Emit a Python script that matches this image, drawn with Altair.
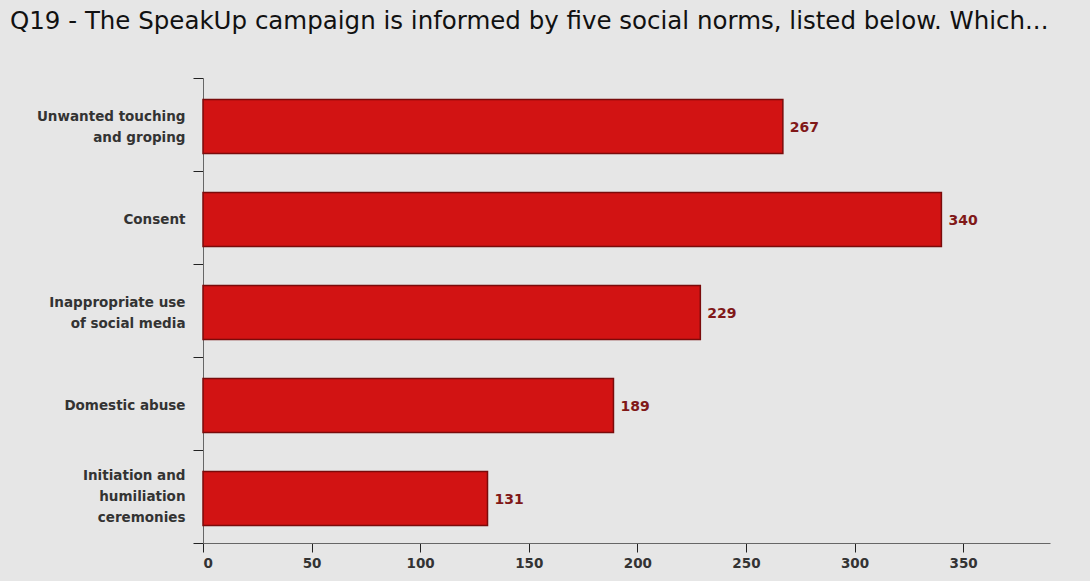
import altair as alt
import pandas as pd

categories = ["Unwanted touching|and groping", "Consent", "Inappropriate use|of social media",
              "Domestic abuse", "Initiation and|humiliation|ceremonies"]
values = [267, 340, 229, 189, 131]
x_ticks = [0, 50, 100, 150, 200, 250, 300, 350]
title = "Q19 - The SpeakUp campaign is informed by five social norms, listed below. Which..."

df = pd.DataFrame({"category": categories, "value": values})

label_offset = {
    "condition": [
        {"test": "length(split(datum.value, '|')) == 3", "value": -21.5},
        {"test": "length(split(datum.value, '|')) == 2", "value": -8.5},
    ],
    "value": 2,
}

y_enc = alt.Y("category:N", sort=categories, title=None,
              scale=alt.Scale(paddingInner=0, paddingOuter=0),
              axis=alt.Axis(labelExpr="split(datum.label, '|')", labelFont="DejaVu Sans",
                            labelFontSize=13.5, labelFontWeight="bold", labelColor="#333333",
                            labelLineHeight=21, labelPadding=8, tickSize=10, tickBand="extent",
                            labelOffset=label_offset,
                            domainColor="#666666", tickColor="#222222", labelAlign="right"))
x_enc = alt.X("value:Q", title=None,
              scale=alt.Scale(domain=[0, 390], nice=False),
              axis=alt.Axis(values=x_ticks, grid=False, labelFont="DejaVu Sans",
                            labelFontSize=13.5, labelFontWeight="bold", labelColor="#333333",
                            tickSize=9, labelPadding=4, domainColor="#666666",
                            tickColor="#222222"))

bars = alt.Chart(df).mark_bar(color="#d21313", stroke="#7a0b0b", strokeWidth=1.5,
                              yOffset=2,
                              height=alt.RelativeBandSize(0.58)).encode(x=x_enc, y=y_enc)
labels = alt.Chart(df).mark_text(align="left", baseline="middle", dx=7, dy=3, font="DejaVu Sans",
                                 fontSize=14, fontWeight="bold", color="#801818").encode(
    x="value:Q", y=alt.Y("category:N", sort=categories), text="value:Q")

chart = (bars + labels).properties(
    width=847, height=465,
    title=alt.TitleParams(title, anchor="start", frame="group", font="DejaVu Sans",
                          fontSize=24.5, fontWeight="normal",
                          color="#111111", dx=-193, offset=37),
    background="#e6e6e6",
    autosize=alt.AutoSizeParams(type="none"),
    padding={"left": 203, "top": 78, "right": 40, "bottom": 38},
).configure_view(stroke=None)

chart.save("out.html", embed_options={"renderer": "svg", "actions": False})
